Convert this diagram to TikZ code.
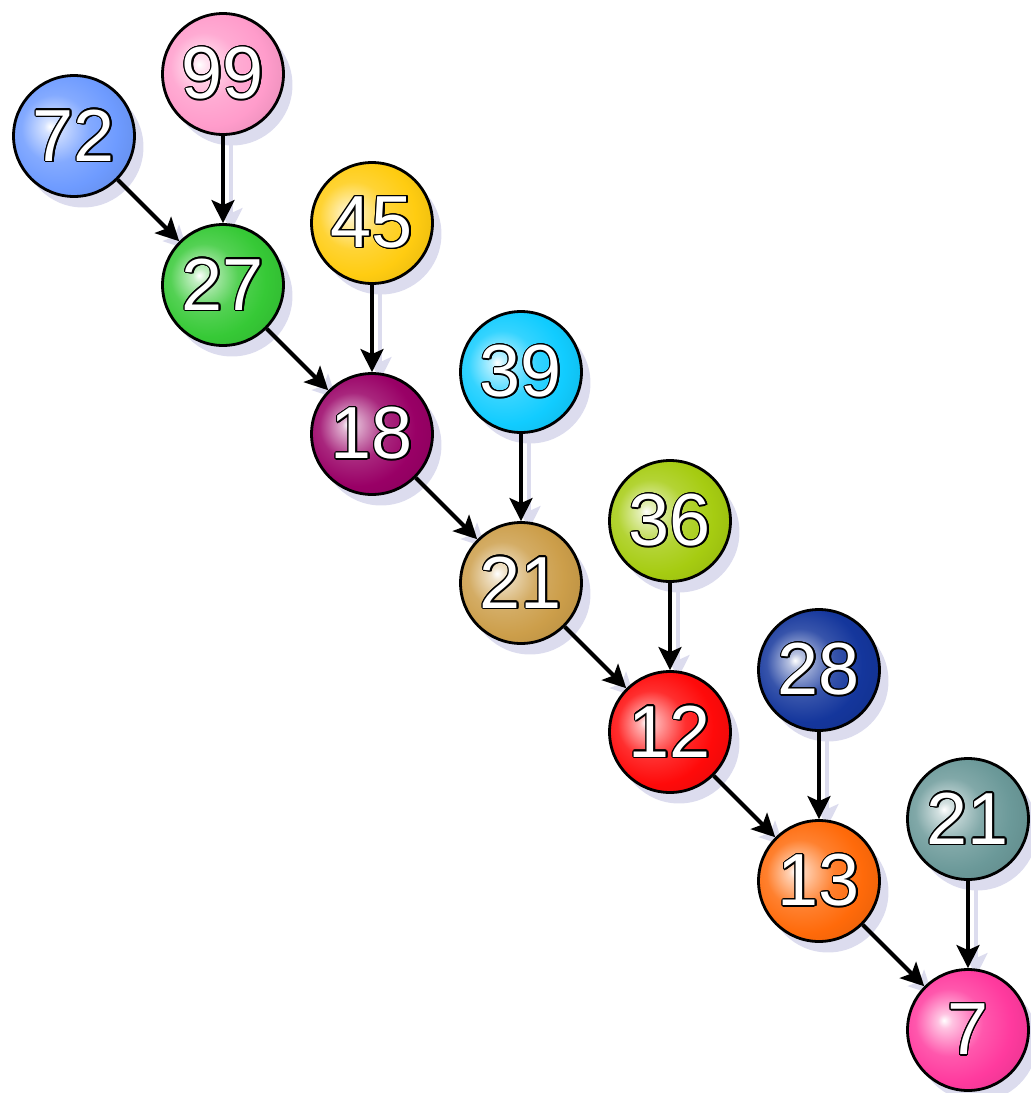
\documentclass[tikz,border=0pt]{standalone}
\usepackage{fontspec}
\setmainfont{Liberation Sans}
\usepackage{contour}
\usetikzlibrary{arrows.meta,shadows}
\contourlength{0.75pt}
\definecolor{shadowL}{HTML}{DCDCEE}
\definecolor{ballA}{HTML}{6E9BFF}
\definecolor{ballB}{HTML}{FF9CCB}
\definecolor{ballC}{HTML}{36C936}
\definecolor{ballD}{HTML}{FFCC11}
\definecolor{ballE}{HTML}{990066}
\definecolor{ballF}{HTML}{11CCFF}
\definecolor{ballG}{HTML}{CC9E4A}
\definecolor{ballH}{HTML}{A6CC11}
\definecolor{ballI}{HTML}{FF0A0A}
\definecolor{ballJ}{HTML}{14369C}
\definecolor{ballK}{HTML}{FF6A0A}
\definecolor{ballL}{HTML}{6B9999}
\definecolor{ballM}{HTML}{FF3A9E}
\colorlet{ballcol}{white}
\pgfdeclareradialshading[ballcol]{glossball}{\pgfpoint{-10bp}{4bp}}{%
  color(0bp)=(white); color(3bp)=(ballcol!30!white);
  color(14bp)=(ballcol!85!white); color(24bp)=(ballcol);
  color(44bp)=(ballcol!82!black); color(62bp)=(ballcol!60!black)}
\pgfdeclarelayer{background}
\pgfsetlayers{background,main}
\newcommand\ballnum[1]{%
  \makebox[0pt][l]{\hspace{0.7pt}\raisebox{-0.7pt}{\textcolor{black}{#1}}}%
  \contour{black}{#1}}

\begin{document}
\begin{tikzpicture}[x=0.02cm, y=-0.02cm,
  ball/.style={circle, draw=black, line width=1.6pt, minimum size=2.42cm,
    inner sep=0pt, /utils/exec={\colorlet{ballcol}{#1}}, shading=glossball,
    text=white, font=\fontsize{42}{42}\selectfont,
    drop shadow={shadow xshift=0.18cm, shadow yshift=-0.22cm,
      fill=shadowL, opacity=1}},
  link/.style={line width=2.3pt,
    -{Stealth[length=0.46cm, width=0.46cm, inset=0.1cm]}},
  linkshadow/.style={link, draw=shadowL,
    transform canvas={shift={(0.16cm,-0.16cm)}}}]
  \useasboundingbox (0,0) rectangle (1031,1093);

  % balls, top-left to bottom-right
  \foreach \nm/\x/\y/\c/\t in {
    n72/74/136/ballA/72,
    n99/223/74/ballB/99,
    n27/223/285/ballC/27,
    n45/372/223/ballD/45,
    n18/372/434/ballE/18,
    n39/521/372/ballF/39,
    n21a/521/583/ballG/21,
    n36/670/521/ballH/36,
    n12/670/732/ballI/12,
    n28/819/670/ballJ/28,
    n13/819/881/ballK/13,
    n21b/968/819/ballL/21,
    n7/968/1030/ballM/7}{
    \node[ball=\c] (\nm) at (\x,\y) {\ballnum{\t}};
  }

  % arrow shadows behind everything
  \begin{pgfonlayer}{background}
    \foreach \a/\b in {n72/n27, n99/n27, n27/n18, n45/n18, n18/n21a,
      n39/n21a, n21a/n12, n36/n12, n12/n13, n28/n13, n13/n7, n21b/n7}{
      \draw[linkshadow] (\a) -- (\b);
    }
  \end{pgfonlayer}

  \foreach \a/\b in {n72/n27, n99/n27, n27/n18, n45/n18, n18/n21a,
    n39/n21a, n21a/n12, n36/n12, n12/n13, n28/n13, n13/n7, n21b/n7}{
    \draw[link] (\a) -- (\b);
  }
\end{tikzpicture}
\end{document}
